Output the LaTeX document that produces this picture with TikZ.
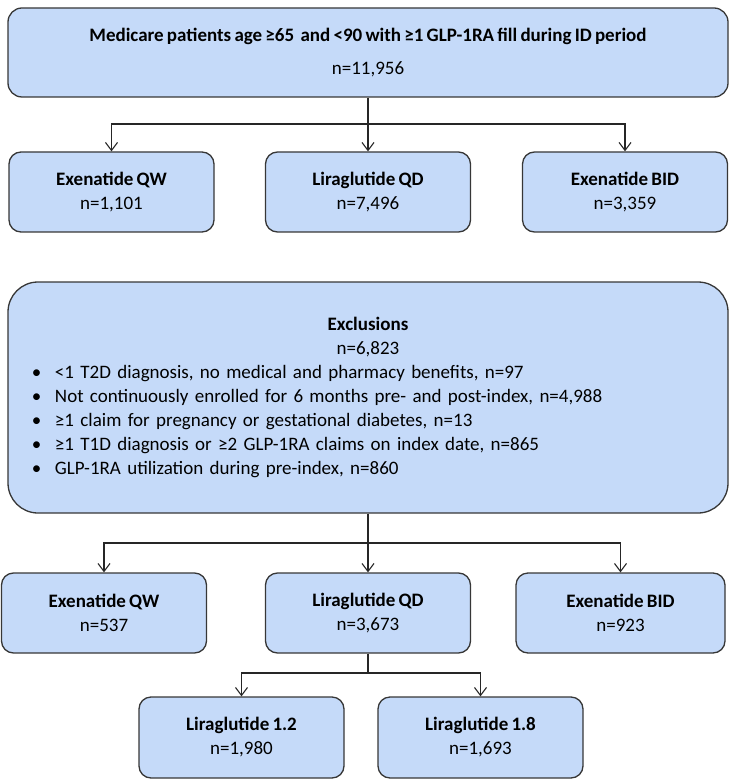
\documentclass[tikz,border=0pt]{standalone}
\usepackage{fontspec}
\setmainfont{Carlito}[WordSpace=0.75]
\usetikzlibrary{arrows.meta}
\definecolor{boxfill}{RGB}{197,218,249}
\definecolor{boxline}{RGB}{55,55,55}
\tikzset{>={Straight Barb[length=8pt,width=12pt]}}
\tikzset{
  flowbox/.style={draw=boxline, fill=boxfill, line width=1.3pt, rounded corners=12pt,
    align=center, inner sep=0pt, minimum width=205pt, minimum height=80pt,
    font=\fontsize{19}{24}\selectfont},
  link/.style={line width=1.1pt, draw=black!85},
}
\newcommand\exclline[1]{\makebox[720pt][l]{\hspace*{24pt}\makebox[23pt][l]{\textbullet}#1}}

\begin{document}
\begin{tikzpicture}[x=1pt,y=-1pt]
  \useasboundingbox (0,0) rectangle (734,783);

  %% whole cohort
  \node[flowbox, minimum width=720pt, minimum height=89pt, rounded corners=14pt] (all) at (368,52.5)
    {\textbf{Medicare patients age ≥65\, and <90 with ≥1 GLP-1RA fill during ID period}\\[9pt] n=11,956};

  \node[flowbox] (qw1)  at (111.5,192) {\textbf{Exenatide QW}\\ n=1,101};
  \node[flowbox] (qd1)  at (368,192)   {\textbf{Liraglutide QD}\\ n=7,496};
  \node[flowbox] (bid1) at (625,192)   {\textbf{Exenatide BID}\\ n=3,359};

  \coordinate (split1) at (368,124);
  \draw[link] (all) -- (split1);
  \draw[link,->] (split1) -| (qw1);
  \draw[link,->] (split1) -- (qd1);
  \draw[link,->] (split1) -| (bid1);

  %% exclusions
  \node[flowbox, minimum width=720pt, minimum height=231pt, rounded corners=30pt, text width=720pt] (excl) at (368,397.5)
    {\textbf{Exclusions}\\ n=6,823\\
     \exclline{<1 T2D diagnosis, no medical and pharmacy benefits, n=97}\\
     \exclline{Not continuously enrolled for 6 months pre- and post-index, n=4,988}\\
     \exclline{≥1 claim for pregnancy or gestational diabetes, n=13}\\
     \exclline{≥1 T1D diagnosis or ≥2 GLP-1RA claims on index date, n=865}\\
     \exclline{GLP-1RA utilization during pre-index, n=860}};

  \node[flowbox] (qw2)  at (104,613)   {\textbf{Exenatide QW}\\ n=537};
  \node[flowbox] (qd2)  at (368,613)   {\textbf{Liraglutide QD}\\ n=3,673};
  \node[flowbox, minimum width=209pt] (bid2) at (620.5,613) {\textbf{Exenatide BID}\\ n=923};

  \coordinate (split2) at (368,543);
  \draw[link] (excl) -- (split2);
  \draw[link,->] (split2) -| (qw2);
  \draw[link,->] (split2) -- (qd2);
  \draw[link,->] (split2) -| (bid2);

  %% liraglutide doses
  \node[flowbox, minimum height=81pt] (lira12) at (241.5,737.5) {\textbf{Liraglutide 1.2}\\ n=1,980};
  \node[flowbox, minimum height=81pt] (lira18) at (480.5,737.5) {\textbf{Liraglutide 1.8}\\ n=1,693};

  \coordinate (split3) at (368,673);
  \draw[link] (qd2) -- (split3);
  \draw[link,->] (split3) -| (lira12);
  \draw[link,->] (split3) -| (lira18);

\end{tikzpicture}
\end{document}
